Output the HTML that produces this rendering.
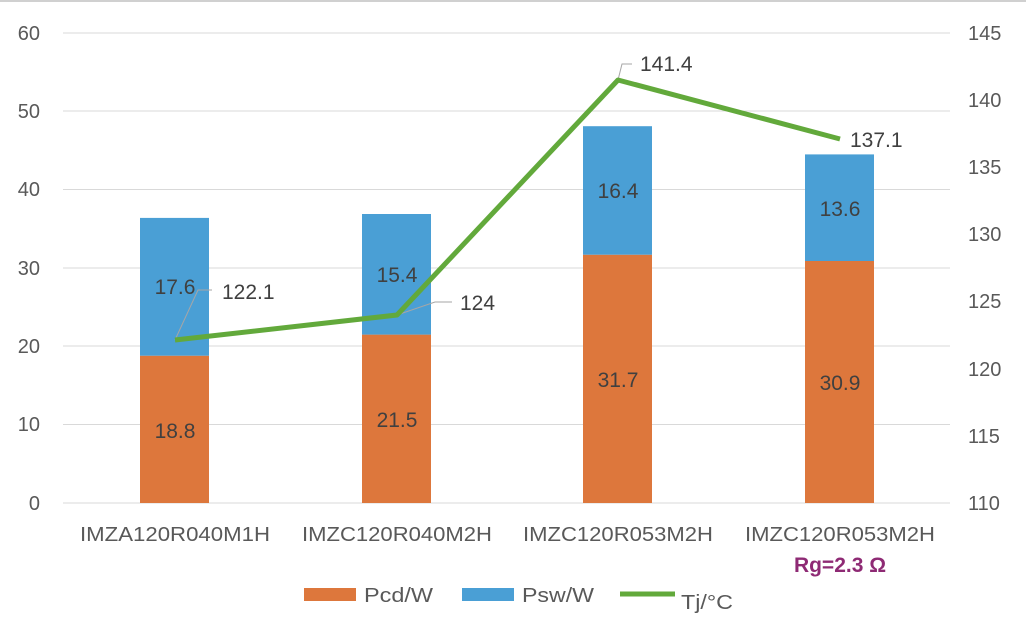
<!DOCTYPE html><html><head><style>body{margin:0;background:#fff}</style></head><body>
<svg width="1026" height="632" xmlns="http://www.w3.org/2000/svg" font-family="Liberation Sans, sans-serif">
<rect width="1026" height="632" fill="#fff"/>
<line x1="0" y1="1" x2="1026" y2="1" stroke="#d0d0d0" stroke-width="2"/>
<g stroke="#d9d9d9" stroke-width="1">
<line x1="63" y1="33" x2="950" y2="33"/><line x1="63" y1="111" x2="950" y2="111"/><line x1="63" y1="189.5" x2="950" y2="189.5"/><line x1="63" y1="268" x2="950" y2="268"/><line x1="63" y1="346" x2="950" y2="346"/><line x1="63" y1="424.5" x2="950" y2="424.5"/><line x1="63" y1="503" x2="950" y2="503"/>
</g>
<g fill="#595959" font-size="20" text-anchor="end">
<text x="40" y="40">60</text><text x="40" y="118">50</text><text x="40" y="196">40</text><text x="40" y="275">30</text><text x="40" y="353">20</text><text x="40" y="431">10</text><text x="40" y="510">0</text>
</g>
<g fill="#595959" font-size="20">
<text x="968" y="40">145</text><text x="968" y="107">140</text><text x="968" y="174">135</text><text x="968" y="241">130</text><text x="968" y="308">125</text><text x="968" y="376">120</text><text x="968" y="443">115</text><text x="968" y="510">110</text>
</g>
<g fill="#dd773c">
<rect x="140" y="355.7" width="69" height="147.3"/><rect x="362" y="334.6" width="69" height="168.4"/><rect x="583" y="254.7" width="69" height="248.3"/><rect x="805" y="261" width="69" height="242"/>
</g>
<g fill="#4a9fd5">
<rect x="140" y="217.9" width="69" height="137.8"/><rect x="362" y="214" width="69" height="120.6"/><rect x="583" y="126.2" width="69" height="128.5"/><rect x="805" y="154.4" width="69" height="106.6"/>
</g>
<g fill="#404040" font-size="21" text-anchor="middle">
<text x="175" y="438">18.8</text><text x="397" y="427">21.5</text><text x="618" y="387">31.7</text><text x="840" y="390">30.9</text>
<text x="175" y="294">17.6</text><text x="397" y="282">15.4</text><text x="618" y="198">16.4</text><text x="840" y="216">13.6</text>
</g>
<g stroke="#a6a6a6" stroke-width="1" fill="none">
<polyline points="175,340 198,290 212,290"/><polyline points="397,315 435,302 452,302"/><polyline points="618,80 622,64 632,64"/>
</g>
<polyline points="175,340 397,315 618,80 840,139" fill="none" stroke="#62a93b" stroke-width="5" stroke-linejoin="round"/>
<g fill="#404040" font-size="21">
<text x="222" y="299">122.1</text><text x="460" y="310">124</text><text x="640" y="71">141.4</text><text x="850" y="147">137.1</text>
</g>
<g fill="#595959" font-size="20" text-anchor="middle">
<text x="175" y="541" textLength="190" lengthAdjust="spacingAndGlyphs">IMZA120R040M1H</text><text x="397" y="541" textLength="190" lengthAdjust="spacingAndGlyphs">IMZC120R040M2H</text><text x="618" y="541" textLength="190" lengthAdjust="spacingAndGlyphs">IMZC120R053M2H</text><text x="840" y="541" textLength="190" lengthAdjust="spacingAndGlyphs">IMZC120R053M2H</text>
</g>
<text x="840" y="572" font-size="21" font-weight="bold" fill="#8e2a74" text-anchor="middle">Rg=2.3 Ω</text>
<rect x="304" y="588" width="52" height="13" fill="#dd773c"/>
<text x="364" y="602" font-size="20" fill="#595959" textLength="69" lengthAdjust="spacingAndGlyphs">Pcd/W</text>
<rect x="462" y="588" width="52" height="13" fill="#4a9fd5"/>
<text x="522" y="602" font-size="20" fill="#595959" textLength="72" lengthAdjust="spacingAndGlyphs">Psw/W</text>
<line x1="620" y1="594" x2="675" y2="594" stroke="#62a93b" stroke-width="5"/>
<text x="681" y="609" font-size="20" fill="#595959" textLength="52" lengthAdjust="spacingAndGlyphs">Tj/°C</text>
</svg>
</body></html>
